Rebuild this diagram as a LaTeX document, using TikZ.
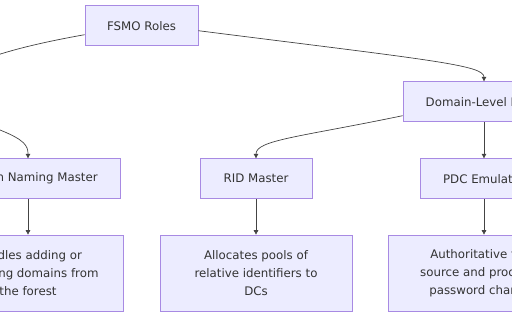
\documentclass[tikz,border=0pt]{standalone}
\usepackage{fontspec}
\setmainfont{DejaVu Sans}
\usetikzlibrary{arrows.meta}
\definecolor{boxfill}{HTML}{ECECFF}
\definecolor{boxline}{HTML}{A88AE3}
\definecolor{txt}{HTML}{333333}
\definecolor{edge}{HTML}{444444}
\tikzset{
  rolebox/.style={draw=boxline, line width=0.7pt, fill=boxfill, text=txt, inner sep=0pt,
    minimum height=40pt, align=center, font=\fontsize{11.8}{18}\selectfont},
  descbox/.style={rolebox, minimum height=76pt, minimum width=191pt},
  link/.style={draw=edge, line width=0.7pt, -{Triangle[length=4.5pt,width=4.5pt]}}
}
\begin{document}
\begin{tikzpicture}[x=1pt,y=-1pt]
\useasboundingbox (0,0) rectangle (512,320);
\begin{scope}
\clip (0,0) rectangle (512,320);
\node[rolebox, minimum width=113pt] (fsmo) at (141.5,25.7) {FSMO Roles};
\node[rolebox, minimum width=162pt] (dl) at (484,101.7) {Domain-Level Roles};
\node[rolebox, minimum width=184pt] (dnm) at (28,178.7) {Domain Naming Master};
\node[rolebox, minimum width=112pt] (rid) at (256,178.7) {RID Master};
\node[rolebox, minimum width=128pt] (pdc) at (484,178.7) {PDC Emulator};
\node[descbox] (d1) at (28,273) {Handles adding or\\removing domains from\\the forest};
\node[descbox, minimum width=192pt] (d2) at (256,273) {Allocates pools of\\relative identifiers to\\DCs};
\node[descbox] (d3) at (484,273) {Authoritative time\\source and processes\\password changes};

\draw[link] ([yshift=-9pt]fsmo.west) .. controls (-120,71) and (-50,110) .. (0,130)
  .. controls (25,140) and (28,146) .. (dnm.north);
\draw[link] ([yshift=-5pt]fsmo.east) .. controls (430,60) and (484,65) .. (dl.north);
\draw[link] ([yshift=-14pt]dl.west) .. controls (300,137) and (256,140) .. (rid.north);
\draw[link] (dl) -- (pdc);
\draw[link] (dnm) -- (d1);
\draw[link] (rid) -- (d2);
\draw[link] (pdc) -- (d3);
\end{scope}
\end{tikzpicture}
\end{document}
